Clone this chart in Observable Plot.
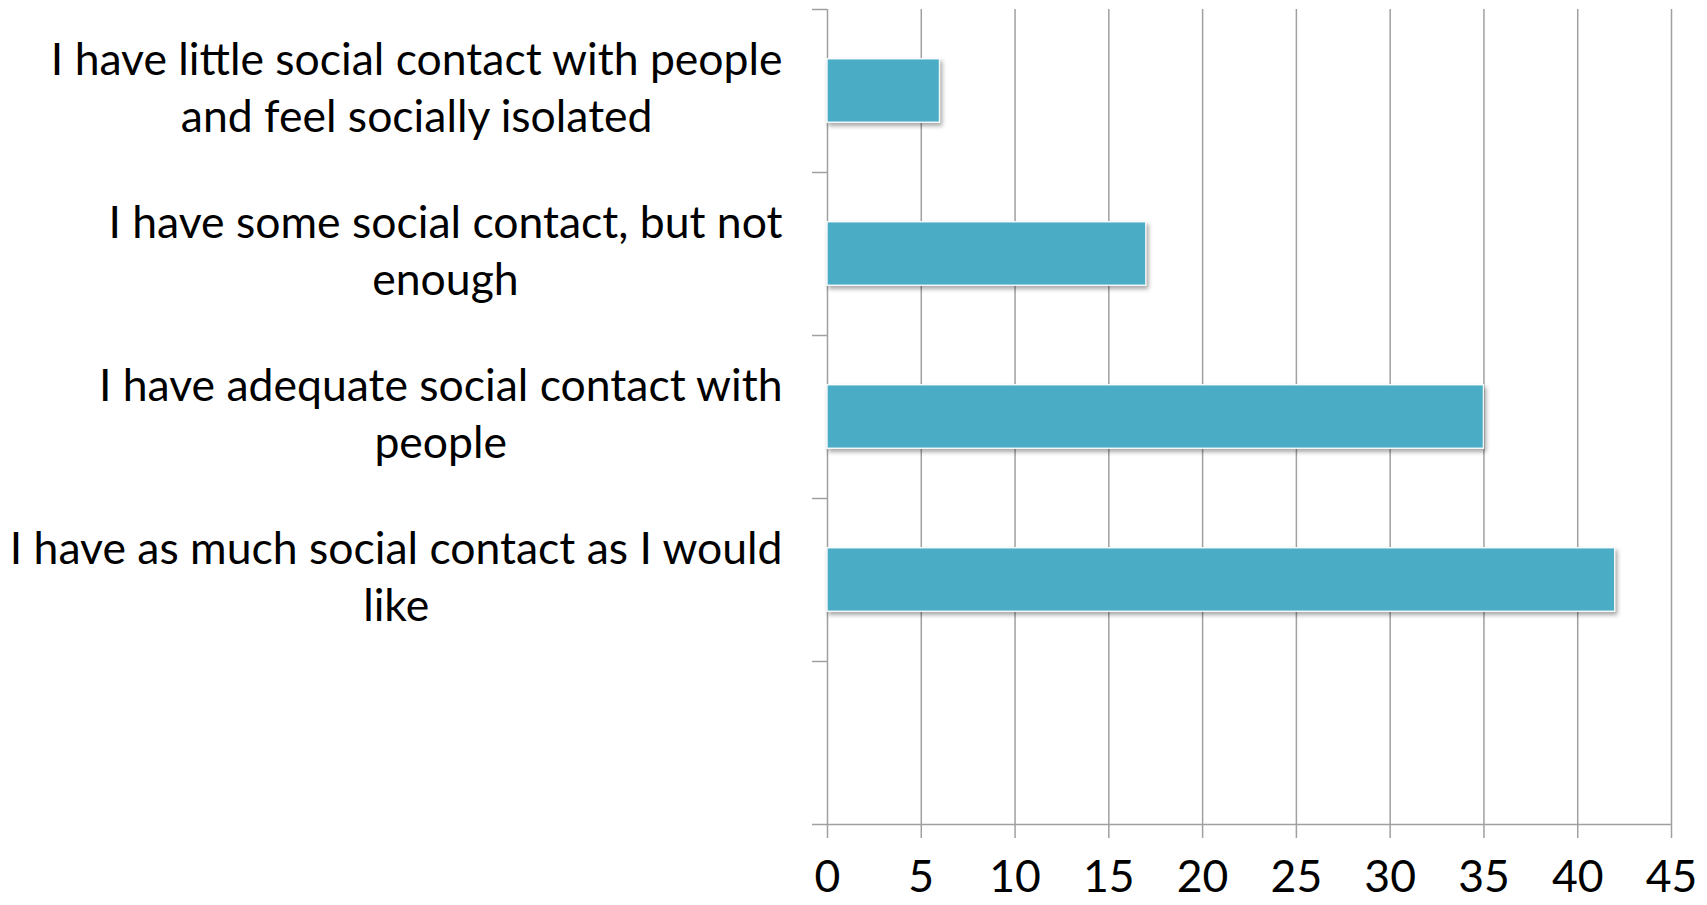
<!DOCTYPE html>
<html>
<head>
<meta charset="utf-8">
<script src="https://cdn.jsdelivr.net/npm/d3@7"></script>
<script src="https://cdn.jsdelivr.net/npm/@observablehq/plot@0.6"></script>
<style>
  html, body { margin: 0; padding: 0; background: #fff; }
  #chart svg g[aria-label="rect"] rect { filter: drop-shadow(2px 3px 2px rgba(0,0,0,0.35)); }
</style>
</head>
<body>
<div id="chart"></div>
<script>
const categories = [
  "I have little social contact with people\nand feel socially isolated",
  "I have some social contact, but not\nenough",
  "I have adequate social contact with\npeople",
  "I have as much social contact as I would\nlike"
];
const values = [6, 17, 35, 42];
const xTicks = [0, 5, 10, 15, 20, 25, 30, 35, 40, 45];
const slotBounds = [0, 1, 2, 3, 4, 5];

const data = categories.map((c, i) => ({category: c, value: values[i], slot: i}));
const FONT = "Lato, 'Open Sans', sans-serif";
const FS = 44.5;
const barHalf = 0.195;

const plot = Plot.plot({
  width: 1707,
  height: 905,
  marginLeft: 827,
  marginRight: 36,
  marginTop: 9,
  marginBottom: 81,
  style: {fontFamily: FONT, fontSize: FS + "px", color: "#000", background: "#fff"},
  x: {domain: [0, 45], ticks: xTicks},
  y: {domain: [0, 5], reverse: true},
  marks: [
    Plot.ruleX(xTicks, {stroke: "#a0a0a0", strokeWidth: 1.5}),
    Plot.ruleY([5], {stroke: "#a0a0a0", strokeWidth: 1.5}),
    Plot.axisX({ticks: xTicks, tickSize: 14, tickPadding: 22, stroke: "#a0a0a0", strokeWidth: 1.5, strokeOpacity: 1, fill: "#000", fontSize: FS, label: null}),
    Plot.axisY({ticks: slotBounds, tickSize: 15, tickFormat: () => "", stroke: "#a0a0a0", strokeWidth: 1.5, strokeOpacity: 1, label: null}),
    Plot.rectX(data, {
      x1: 0, x2: "value",
      y1: d => d.slot + 0.5 - barHalf,
      y2: d => d.slot + 0.5 + barHalf,
      fill: "#4BACC6", stroke: "#ffffff", strokeWidth: 1.5, strokeOpacity: 0.9
    }),
    Plot.text(data, {
      y: d => d.slot + 0.5,
      frameAnchor: "left",
      text: "category",
      textAnchor: "middle",
      lineAnchor: "middle",
      lineHeight: 1.28,
      dy: -6,
      fontSize: FS,
      fill: "#000"
    })
  ]
});
document.getElementById("chart").appendChild(plot);

// position each centered label block so that its widest line ends just left of the axis
const labelGroup = plot.querySelector('g[aria-label="text"]');
if (labelGroup) {
  const rightEdge = 782;
  labelGroup.querySelectorAll("text").forEach(t => {
    const b = t.getBBox();
    const ctm = t.getAttribute("transform") || "";
    const m = /translate\(([-\d.]+),\s*([-\d.]+)\)/.exec(ctm);
    const tx = m ? +m[1] : 0;
    const shift = rightEdge - (tx + b.x + b.width);
    t.setAttribute("transform", ctm + ` translate(${shift},0)`);
  });
}
</script>
</body>
</html>
